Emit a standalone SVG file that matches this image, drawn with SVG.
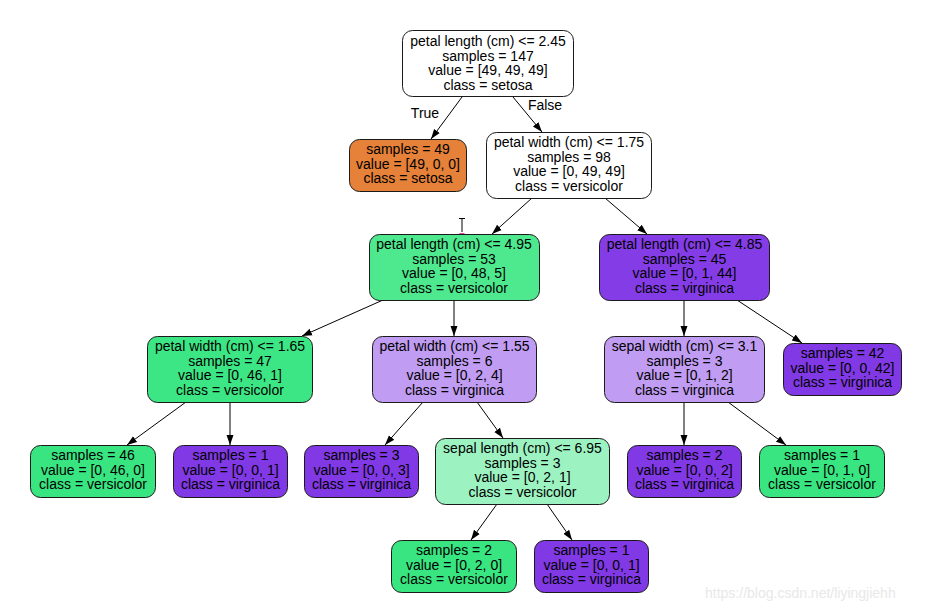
<svg xmlns="http://www.w3.org/2000/svg" width="930" height="613" viewBox="0 0 930 613">
<defs>
<marker id="ah" viewBox="0 0 10 10" refX="10" refY="5" markerWidth="10" markerHeight="10" markerUnits="userSpaceOnUse" orient="auto">
<path d="M0,1.5 L10,5 L0,8.5 Z" fill="#000"/>
</marker>
<style>
.n rect{stroke:#1a1a1a;stroke-width:1}
text{font-family:"Liberation Sans",Arial,sans-serif;font-size:14px;fill:#000;text-anchor:middle}
.e line{stroke:#000;stroke-width:1;marker-end:url(#ah)}
.wm{fill:#e8e8e8;text-anchor:start}
</style>
</defs>
<rect width="930" height="613" fill="#fff"/>
<g class="e" id="edges">
<line x1="462" y1="97" x2="431" y2="139"/>
<line x1="513" y1="97" x2="542" y2="132"/>
<line x1="532" y1="198" x2="492" y2="234"/>
<line x1="605" y1="198" x2="647" y2="234"/>
<line x1="383" y1="300" x2="302" y2="336"/>
<line x1="454" y1="300" x2="454" y2="336"/>
<line x1="684" y1="300" x2="684" y2="336"/>
<line x1="737" y1="300" x2="802" y2="343"/>
<line x1="186" y1="402" x2="127" y2="445"/>
<line x1="230" y1="402" x2="230" y2="445"/>
<line x1="423" y1="402" x2="385" y2="445"/>
<line x1="477" y1="402" x2="503" y2="438"/>
<line x1="684" y1="402" x2="684" y2="445"/>
<line x1="728" y1="402" x2="786" y2="445"/>
<line x1="497" y1="504" x2="471" y2="540"/>
<line x1="547" y1="504" x2="572" y2="540"/>
<text x="425" y="118">True</text>
<text x="545" y="110">False</text>
</g>
<g class="n" id="n0"><rect x="402.5" y="30.5" width="171" height="66" rx="10" fill="#ffffff"/>
<text x="488" y="46">petal length (cm) &lt;= 2.45</text><text x="488" y="60.5">samples = 147</text><text x="488" y="75">value = [49, 49, 49]</text><text x="488" y="89.5">class = setosa</text></g>
<g class="n" id="n1"><rect x="349.5" y="139.5" width="117" height="52" rx="10" fill="#e58139"/>
<text x="408" y="154">samples = 49</text><text x="408" y="168.5">value = [49, 0, 0]</text><text x="408" y="183">class = setosa</text></g>
<g class="n" id="n2"><rect x="486.5" y="132.5" width="165" height="66" rx="10" fill="#ffffff"/>
<text x="569" y="147">petal width (cm) &lt;= 1.75</text><text x="569" y="161.5">samples = 98</text><text x="569" y="176">value = [0, 49, 49]</text><text x="569" y="190.5">class = versicolor</text></g>
<g class="n" id="n3"><rect x="369.5" y="234.5" width="170" height="66" rx="10" fill="#4ee88e"/>
<text x="454" y="249">petal length (cm) &lt;= 4.95</text><text x="454" y="263.5">samples = 53</text><text x="454" y="278">value = [0, 48, 5]</text><text x="454" y="292.5">class = versicolor</text></g>
<g class="n" id="n4"><rect x="599.5" y="234.5" width="170" height="66" rx="10" fill="#843de6"/>
<text x="684.5" y="249">petal length (cm) &lt;= 4.85</text><text x="684.5" y="263.5">samples = 45</text><text x="684.5" y="278">value = [0, 1, 44]</text><text x="684.5" y="292.5">class = virginica</text></g>
<g class="n" id="n5"><rect x="147.5" y="336.5" width="165" height="66" rx="10" fill="#3de684"/>
<text x="230" y="351">petal width (cm) &lt;= 1.65</text><text x="230" y="365.5">samples = 47</text><text x="230" y="380">value = [0, 46, 1]</text><text x="230" y="394.5">class = versicolor</text></g>
<g class="n" id="n6"><rect x="372.5" y="336.5" width="164" height="66" rx="10" fill="#c09cf2"/>
<text x="454.5" y="351">petal width (cm) &lt;= 1.55</text><text x="454.5" y="365.5">samples = 6</text><text x="454.5" y="380">value = [0, 2, 4]</text><text x="454.5" y="394.5">class = virginica</text></g>
<g class="n" id="n7"><rect x="604.5" y="336.5" width="160" height="66" rx="10" fill="#c09cf2"/>
<text x="684.5" y="351">sepal width (cm) &lt;= 3.1</text><text x="684.5" y="365.5">samples = 3</text><text x="684.5" y="380">value = [0, 1, 2]</text><text x="684.5" y="394.5">class = virginica</text></g>
<g class="n" id="n8"><rect x="783.5" y="343.5" width="118" height="52" rx="10" fill="#8139e5"/>
<text x="842.5" y="358">samples = 42</text><text x="842.5" y="372.5">value = [0, 0, 42]</text><text x="842.5" y="387">class = virginica</text></g>
<g class="n" id="n9"><rect x="30.5" y="445.5" width="125" height="52" rx="10" fill="#39e581"/>
<text x="93" y="460">samples = 46</text><text x="93" y="474.5">value = [0, 46, 0]</text><text x="93" y="489">class = versicolor</text></g>
<g class="n" id="n10"><rect x="173.5" y="445.5" width="114" height="52" rx="10" fill="#8139e5"/>
<text x="230.5" y="460">samples = 1</text><text x="230.5" y="474.5">value = [0, 0, 1]</text><text x="230.5" y="489">class = virginica</text></g>
<g class="n" id="n11"><rect x="304.5" y="445.5" width="114" height="52" rx="10" fill="#8139e5"/>
<text x="361.5" y="460">samples = 3</text><text x="361.5" y="474.5">value = [0, 0, 3]</text><text x="361.5" y="489">class = virginica</text></g>
<g class="n" id="n12"><rect x="435.5" y="438.5" width="174" height="66" rx="10" fill="#9cf2c0"/>
<text x="522.5" y="453">sepal length (cm) &lt;= 6.95</text><text x="522.5" y="467.5">samples = 3</text><text x="522.5" y="482">value = [0, 2, 1]</text><text x="522.5" y="496.5">class = versicolor</text></g>
<g class="n" id="n13"><rect x="627.5" y="445.5" width="114" height="52" rx="10" fill="#8139e5"/>
<text x="684.5" y="460">samples = 2</text><text x="684.5" y="474.5">value = [0, 0, 2]</text><text x="684.5" y="489">class = virginica</text></g>
<g class="n" id="n14"><rect x="759.5" y="445.5" width="125" height="52" rx="10" fill="#39e581"/>
<text x="822" y="460">samples = 1</text><text x="822" y="474.5">value = [0, 1, 0]</text><text x="822" y="489">class = versicolor</text></g>
<g class="n" id="n15"><rect x="391.5" y="540.5" width="125" height="52" rx="10" fill="#39e581"/>
<text x="454" y="555">samples = 2</text><text x="454" y="569.5">value = [0, 2, 0]</text><text x="454" y="584">class = versicolor</text></g>
<g class="n" id="n16"><rect x="534.5" y="540.5" width="114" height="52" rx="10" fill="#8139e5"/>
<text x="591.5" y="555">samples = 1</text><text x="591.5" y="569.5">value = [0, 0, 1]</text><text x="591.5" y="584">class = virginica</text></g>
<g id="cursor" stroke-width="1" fill="none">
<path d="M459,218.5 H465 M462,218.5 V232" stroke="#000"/>
<path d="M459.5,233.5 H464.5" stroke="#e0408a"/>
</g>
<text class="wm" x="705" y="598">https://blog.csdn.net/liyingjiehh</text>
</svg>
